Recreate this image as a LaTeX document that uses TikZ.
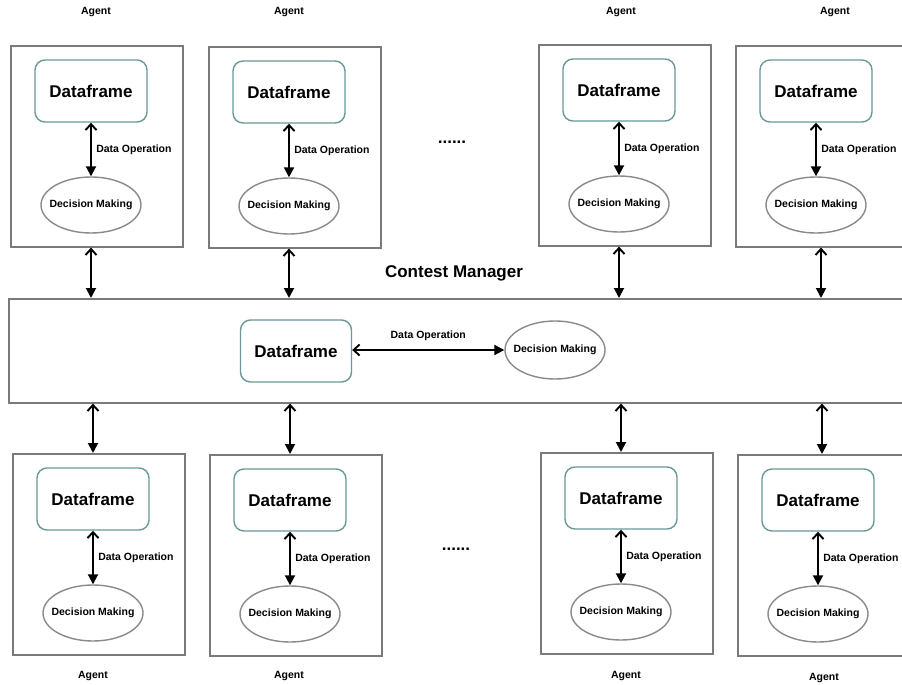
\documentclass[tikz,border=0pt]{standalone}
\usepackage{fontspec}
\setmainfont{Liberation Sans}
\usetikzlibrary{shapes.geometric,arrows.meta}
\definecolor{framegray}{HTML}{7A7A7A}
\definecolor{dfteal}{HTML}{6A9898}
\definecolor{ellgray}{HTML}{8A8A8A}
\tikzstyle{frame} = [rectangle, draw=framegray, line width=1.6pt, anchor=north west, minimum width=172pt, minimum height=201pt, inner sep=0pt]
\tikzstyle{dataframe} = [rectangle, rounded corners=10pt, draw=dfteal, line width=1.4pt, minimum width=112pt, minimum height=62pt, font=\fontsize{17}{20}\selectfont\bfseries]
\tikzstyle{decision} = [ellipse, draw=ellgray, line width=1.4pt, minimum width=100pt, minimum height=56pt, inner xsep=-10pt, inner ysep=0pt, font=\fontsize{10.5}{12}\selectfont\bfseries]
\tikzstyle{link} = [line width=1.9pt, {Straight Barb[length=6pt,width=11pt]}-{Triangle[length=10pt,width=10pt]}]
\tikzstyle{small} = [font=\fontsize{10.5}{12}\selectfont\bfseries]
\tikzstyle{big} = [font=\fontsize{17}{20}\selectfont\bfseries]
% one agent: name, left x, top y of its box
\newcommand{\agent}[3]{
	\node [frame] (#1box) at (#2,#3) {};
	\node [dataframe] (#1df) at (#2+81,#3+46) {Dataframe};
	\node [decision] (#1dm) at (#2+81,#3+160) {Decision Making};
	\draw [link] (#1df) -- node [small, right=1pt] {Data Operation} (#1dm);
}

\begin{document}
\begin{tikzpicture}[x=1pt, y=-1pt]
	\useasboundingbox (0,0) rectangle (902,685);
	\clip (0,0) rectangle (902,685);
	% contest manager
	\node [frame, minimum width=902pt, minimum height=104pt] (mgr) at (8,298) {};
	\node [big] (title) at (454,273) {Contest Manager};
	\node [dataframe, minimum width=111pt] (mgrdf) at (296,351) {Dataframe};
	\node [decision, minimum height=58pt] (mgrdm) at (555,350) {Decision Making};
	\draw [link] (mgrdf.east |- mgrdm) -- node [small, above=5pt] {Data Operation} (mgrdm.west);
	% agents above
	\agent{ta}{10}{45}
	\agent{tb}{208}{46}
	\agent{tc}{538}{44}
	\agent{td}{735}{45}
	% agents below
	\agent{ba}{12}{453}
	\agent{bb}{209}{454}
	\agent{bc}{540}{452}
	\agent{bd}{737}{454}
	\draw [link] (tabox.south -| tadf) -- (mgr.north -| tadf);
	\draw [link] (tbbox.south -| tbdf) -- (mgr.north -| tbdf);
	\draw [link] (tcbox.south -| tcdf) -- (mgr.north -| tcdf);
	\draw [link] ([xshift=5pt]tdbox.south -| tddf) -- ([xshift=5pt]mgr.north -| tddf);
	\draw [link] (mgr.south -| badf) -- (babox.north -| badf);
	\draw [link] (mgr.south -| bbdf) -- (bbbox.north -| bbdf);
	\draw [link] (mgr.south -| bcdf) -- (bcbox.north -| bcdf);
	\draw [link] ([xshift=4pt]mgr.south -| bddf) -- ([xshift=4pt]bdbox.north -| bddf);
	% labels
	\node [small] (agta) at (96,12) {Agent};
	\node [small] (agtb) at (289,12) {Agent};
	\node [small] (agtc) at (621,12) {Agent};
	\node [small] (agtd) at (835,12) {Agent};
	\node [small] (agba) at (93,676) {Agent};
	\node [small] (agbb) at (289,676) {Agent};
	\node [small] (agbc) at (626,676) {Agent};
	\node [small] (agbd) at (824,678) {Agent};
	\node [big] (dotsa) at (452,142) {......};
	\node [big] (dotsb) at (456,549) {......};
\end{tikzpicture}
\end{document}
